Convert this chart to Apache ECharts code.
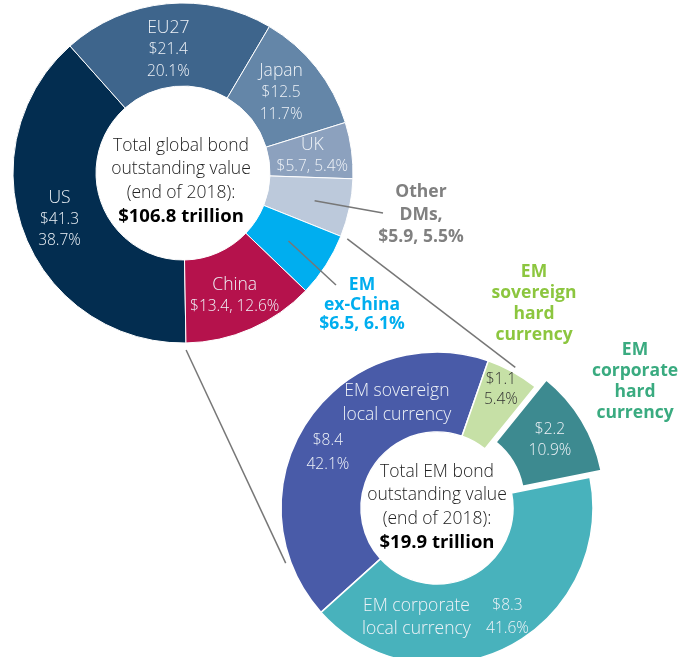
<!DOCTYPE html>
<html>
<head>
<meta charset="utf-8">
<script src="https://cdn.jsdelivr.net/npm/echarts@6/dist/echarts.min.js"></script>
<style>
html, body { margin: 0; padding: 0; background: #fff; }
#chart { width: 692px; height: 657px; }
</style>
</head>
<body>
<div id="chart"></div>
<script>
// global bond outstanding, end of 2018 ($ trillion)
const globalNames = ['US', 'EU27', 'Japan', 'UK', 'Other DMs', 'EM ex-China', 'China'];
const globalValues = [41.3, 21.4, 12.5, 5.7, 5.9, 6.5, 13.4];
const globalPct = ['38.7%', '20.1%', '11.7%', '5.4%', '5.5%', '6.1%', '12.6%'];
const globalTotal = '$106.8 trillion';

// EM bond outstanding, end of 2018 ($ trillion)
const emNames = ['EM sovereign local currency', 'EM sovereign hard currency', 'EM corporate hard currency', 'EM corporate local currency'];
const emValues = [8.4, 1.1, 2.2, 8.3];
const emPct = ['42.1%', '5.4%', '10.9%', '41.6%'];
const emTotal = '$19.9 trillion';

const globalColors = ['#032d50', '#3e658c', '#6486a8', '#8ca1be', '#bcc9db', '#00aeef', '#b5124c'];
const emColors = ['#495ba8', '#c6e0a6', '#3d8a90', '#48b2bc'];

const FONT = '"Open Sans", Lato, sans-serif';
const topC = [183, 173], topR = [87, 170], topStart = 271;
const botC = [437, 508], botR = [76, 156], botStart = 222;

function sliceAngles(values, start) {
  const sum = values.reduce((a, b) => a + b, 0);
  let acc = 0;
  return values.map(v => {
    const a0 = start - acc / sum * 360;
    acc += v;
    return [a0, start - acc / sum * 360];
  });
}
function polar(c, r, deg) {
  const t = deg * Math.PI / 180;
  return [c[0] + r * Math.cos(t), c[1] - r * Math.sin(t)];
}
const topAng = sliceAngles(globalValues, topStart);
const botAng = sliceAngles(emValues, botStart);
const mid = a => (a[0] + a[1]) / 2;
const topMidR = (topR[0] + topR[1]) / 2;

const money = v => '$' + v.toFixed(1);

function globalLabel(p) {
  const i = p.dataIndex, n = globalNames[i], v = money(globalValues[i]), pc = globalPct[i];
  if (i === 4) return '{g|Other}\n{g|DMs,}\n{g|' + v + ', ' + pc + '}';
  if (i === 5) return '{c|EM}\n{c|ex-China}\n{c|' + v + ', ' + pc + '}';
  if (i === 3 || i === 6) return '{ln|' + n + '}\n{lv|' + v + ', ' + pc + '}';
  return '{ln|' + n + '}\n{lv|' + v + '}\n{lv|' + pc + '}';
}

function emLabel(p) {
  const i = p.dataIndex, v = money(emValues[i]), pc = emPct[i];
  if (i === 0) return '{sp| }{n|EM sovereign}\n{sp| }{n|local currency}\n{v1|' + v + '}{sp2| }\n{v2|' + pc + '}{sp2| }';
  if (i === 1) return '{d|' + v + '}\n{d|' + pc + '}';
  if (i === 3) return '{cn|EM corporate}{cv|' + v + '}\n{cn|local currency}{cv|' + pc + '}';
  return '{w|' + v + '}\n{w|' + pc + '}';
}

const topNudge = [[-1, -1], [-2, 8], [-5, 2], [-1, 1], [0, 0], [0, 0], [-1, 3]];
const botNudge = [[43, -16], [6, -14], null, [-47, 3]];
const textWhite = '#eef2f7';
const light = (size, lh, extra) => Object.assign({ color: textWhite, fontSize: size, lineHeight: lh, fontFamily: FONT, fontWeight: 300 }, extra || {});

const chart = echarts.init(document.getElementById('chart'));
chart.setOption({
  animation: false,
  backgroundColor: '#fff',
  series: [
    {
      type: 'pie',
      center: topC,
      radius: topR,
      startAngle: topStart,
      clockwise: true,
      avoidLabelOverlap: false,
      silent: true,
      itemStyle: { borderColor: '#fff', borderWidth: 1 },
      labelLine: { show: false },
      label: {
        show: true,
        position: 'inside',
        fontFamily: FONT,
        formatter: globalLabel,
        rich: {
          ln: light(17.5, 21.5),
          lv: light(15.5, 21.5),
          g: { color: '#808080', fontSize: 17.5, lineHeight: 22.5, fontFamily: FONT, fontWeight: 'bold' },
          c: { color: '#00aeef', fontSize: 17.5, lineHeight: 19.5, fontFamily: FONT, fontWeight: 'bold' }
        }
      },
      labelLayout: function (p) {
        const i = p.dataIndex;
        if (i === 4) return { x: 421, y: 215, align: 'center', verticalAlign: 'middle' };
        if (i === 5) return { x: 362, y: 305, align: 'center', verticalAlign: 'middle' };
        const r = p.labelRect;
        return { x: r.x + r.width / 2 + topNudge[i][0], y: r.y + r.height / 2 + topNudge[i][1], align: 'center', verticalAlign: 'middle' };
      },
      data: globalNames.map((n, i) => ({ name: n, value: globalValues[i], itemStyle: { color: globalColors[i] } }))
    },
    {
      type: 'pie',
      center: botC,
      radius: botR,
      startAngle: botStart,
      clockwise: true,
      avoidLabelOverlap: false,
      selectedMode: 'single',
      selectedOffset: 13,
      silent: true,
      itemStyle: { borderColor: '#fff', borderWidth: 1.5 },
      labelLine: { show: false },
      label: {
        show: true,
        position: 'inside',
        fontFamily: FONT,
        formatter: emLabel,
        rich: {
          w: light(15.5, 21),
          d: light(15.5, 20, { color: '#333' }),
          sp: { width: 32, lineHeight: 10, fontSize: 10 },
          sp2: { width: 106, lineHeight: 10, fontSize: 10 },
          n: light(17.5, 24, { width: 122, align: 'center' }),
          v1: light(15.5, 28, { width: 46, align: 'center' }),
          v2: light(15.5, 20, { width: 46, align: 'center' }),
          cn: light(17.5, 23, { width: 128, align: 'center' }),
          cv: light(15.5, 23, { width: 54, align: 'center' })
        }
      },
      labelLayout: function (p) {
        const nd = botNudge[p.dataIndex];
        if (!nd) return {};
        const r = p.labelRect;
        return { x: r.x + r.width / 2 + nd[0], y: r.y + r.height / 2 + nd[1], align: 'center', verticalAlign: 'middle' };
      },
      data: emNames.map((n, i) => ({ name: n, value: emValues[i], selected: i === 2, itemStyle: { color: emColors[i] } }))
    }
  ],
  graphic: (function () {
    const lineStyle = { stroke: '#777', lineWidth: 1.5 };
    const seg = (a, b) => ({ type: 'line', silent: true, z: 10, shape: { x1: a[0], y1: a[1], x2: b[0], y2: b[1] }, style: lineStyle });
    const centerText = (x, y, lines, total) => ({
      type: 'text', x: x, y: y, z: 10, silent: true,
      style: {
        text: lines.join('\n') + '\n{b|' + total + '}',
        fill: '#222', font: '300 17.5px ' + FONT, lineHeight: 23.5, align: 'center', verticalAlign: 'middle',
        rich: { b: { fill: '#000', fontWeight: 'bold', fontSize: 18.5, fontFamily: FONT, lineHeight: 23.5 } }
      }
    });
    const sideText = (x, y, words, color) => ({
      type: 'text', x: x, y: y, z: 10, silent: true,
      style: { text: words.join('\n'), fill: color, font: 'bold 17.5px ' + FONT, lineHeight: 21, align: 'center', verticalAlign: 'middle' }
    });
    return [
      centerText(181, 181, ['Total global bond', 'outstanding value', '(end of 2018):'], globalTotal),
      centerText(437, 507, ['Total EM bond', 'outstanding value', '(end of 2018):'], emTotal),
      sideText(534, 304, ['EM', 'sovereign', 'hard', 'currency'], '#8cc63f'),
      sideText(635, 382, ['EM', 'corporate', 'hard', 'currency'], '#3aab80'),
      seg(polar(topC, topMidR + 6, mid(topAng[4])), [383, 213]),
      seg(polar(topC, topMidR - 3, mid(topAng[5])), [336, 285]),
      seg(polar(topC, topR[1] + 7, topAng[4][1]), polar(botC, botR[1] + 5, mid(botAng[1]))),
      seg(polar(topC, topR[1] + 7, topStart), polar(botC, botR[1] + 5, botStart - 22))
    ];
  })()
});
</script>
</body>
</html>
